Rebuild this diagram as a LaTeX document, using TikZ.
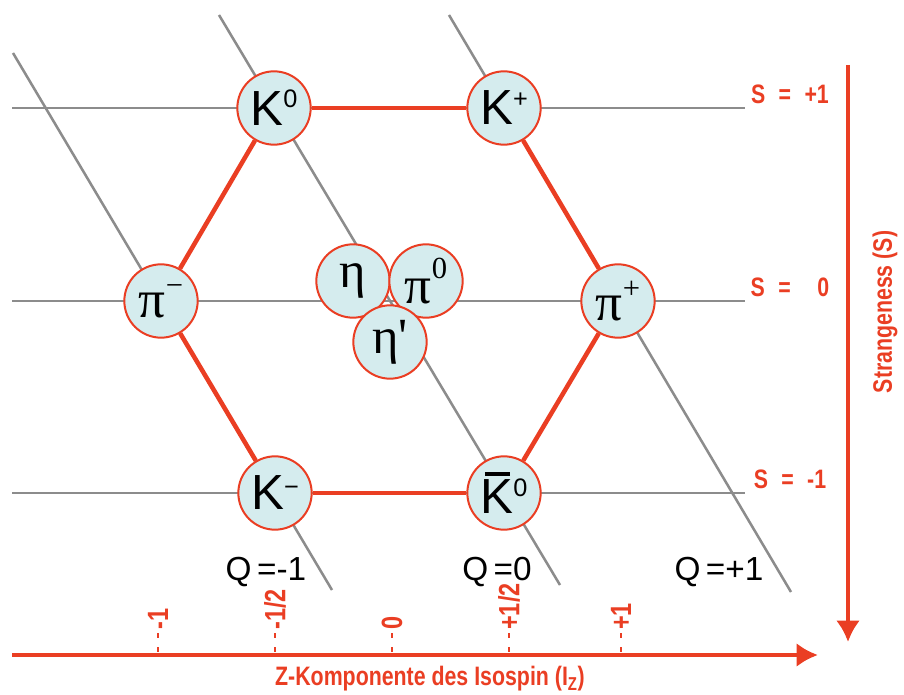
\documentclass[tikz,border=0pt]{standalone}
\usepackage{fontspec}
\setmainfont{Liberation Serif}
\setsansfont{Liberation Sans}
\newfontfamily\narrowfont[FakeStretch=0.8]{Liberation Sans}
\usepackage{tikz}
\usetikzlibrary{arrows.meta}

\definecolor{mesonred}{RGB}{234,62,35}
\definecolor{mesonfill}{RGB}{213,236,238}
\definecolor{gridgray}{RGB}{140,140,140}

% raised index inside a meson circle
\newcommand{\hi}[2][0.36em]{\raisebox{#1}{\fontsize{19}{19}\selectfont #2}}
\newcommand{\hipi}[2][0.42em]{\raisebox{#1}{\fontsize{23}{23}\selectfont #2}}
\newcommand{\barK}{\makebox[0pt][l]{\hspace{0.09em}\rule[0.77em]{0.5em}{0.08em}}K}

\begin{document}
\begin{tikzpicture}[
    x=0.75pt, y=-0.75pt,
    >={Latex[length=16pt,width=18pt]},
    meson/.style={
      circle,
      draw=mesonred,
      line width=1.5pt,
      fill=mesonfill,
      minimum size=55pt,
      inner sep=0pt
    },
    kaon/.style={meson, font=\sffamily\fontsize{37}{37}\selectfont},
    pion/.style={meson, font=\fontsize{40}{40}\selectfont},
    etas/.style={meson, font=\fontsize{38}{38}\selectfont},
    grid/.style={draw=gridgray, line width=1.9pt},
    hexedge/.style={draw=mesonred, line width=3.4pt},
    axis/.style={draw=mesonred, line width=3.5pt},
    tick/.style={draw=mesonred, line width=1.5pt, dash pattern=on 3.75pt off 6.75pt},
    redlabel/.style={text=mesonred, font=\narrowfont\bfseries\fontsize{20}{20}\selectfont, inner sep=0pt},
    ticklabel/.style={redlabel, font=\narrowfont\bfseries\fontsize{22}{22}\selectfont},
    qlabel/.style={font=\sffamily\fontsize{25}{25}\selectfont, inner sep=0pt}
  ]
    \useasboundingbox (0,0) rectangle (904,695);

    % lines of constant strangeness
    \foreach \row/\yy in {top/108, mid/301, bot/493} {
      \coordinate (s\row w) at (12,\yy);
      \coordinate (s\row e) at (745,\yy);
      \draw[grid] (s\row w) -- (s\row e);
    }
    % lines of constant charge
    \coordinate (qm1a) at (13,53);   \coordinate (qm1b) at (332,590);
    \coordinate (q0a)  at (219,15);  \coordinate (q0b)  at (560,585);
    \coordinate (qp1a) at (449,15);  \coordinate (qp1b) at (791,592);
    \draw[grid] (qm1a) -- (qm1b);
    \draw[grid] (q0a)  -- (q0b);
    \draw[grid] (qp1a) -- (qp1b);

    % mesons
    \node[kaon] (K0)    at (274,108) {K\hi{0}};
    \node[kaon] (Kp)    at (504,108) {K\hi{+}};
    \node[pion] (pim)   at (161,301) {π\hipi{−}};
    \node[pion] (pip)   at (618,301) {π\hipi{+}};
    \node[kaon] (Km)    at (275,493) {K\hi[0.3em]{−}};
    \node[kaon] (K0bar) at (504,493) {\barK\hi{0}};
    \node[etas] (eta)   at (353,281) {η};
    \node[pion] (pi0)   at (426,281) {π\hipi[0.46em]{0}};
    \node[etas] (etap)  at (390,342) {η\textquotesingle};

    \begin{scope}[hexedge]
      \draw (K0)    -- (Kp);
      \draw (Kp)    -- (pip);
      \draw (pip)   -- (K0bar);
      \draw (K0bar) -- (Km);
      \draw (Km)    -- (pim);
      \draw (pim)   -- (K0);
    \end{scope}

    % charge labels
    \node[qlabel] (qm1) at (266,572) {Q\,=-1};
    \node[qlabel] (q0)  at (497,572) {Q\,=0};
    \node[qlabel] (qp1) at (719,572) {Q\,=+1};

    % isospin axis
    \coordinate (xs) at (12,655);
    \coordinate (xe) at (818,655);
    \draw[axis,->] (xs) -- (xe);
    \foreach \name/\xx/\lab in {m1/158/{-1}, mh/275/{-1/2}, z/392/{0}, ph/509/{+1/2}, p1/621/{+1}} {
      \coordinate (t\name) at (\xx,633);
      \coordinate (b\name) at (\xx,653);
      \draw[tick] (t\name) -- (b\name);
      \node[ticklabel, rotate=90, anchor=west] (l\name) at (\xx,630) {\lab};
    }
    \node[redlabel] (iz) at (430,679) {Z-Komponente des Isospin (I\textsubscript{Z})};

    % strangeness axis
    \coordinate (ys) at (848,65);
    \coordinate (ye) at (848,642);
    \draw[axis,->] (ys) -- (ye);
    \node[redlabel] (sp1) at (790,94)  {S\enspace=\enspace+1};
    \node[redlabel] (s0)  at (790,287) {S\enspace=\enspace\enspace0};
    \node[redlabel] (sm1) at (790,479) {S\enspace=\enspace-1};
    \node[redlabel, rotate=90] (sname) at (885,312) {Strangeness (S)};
  \end{tikzpicture}
\end{document}
